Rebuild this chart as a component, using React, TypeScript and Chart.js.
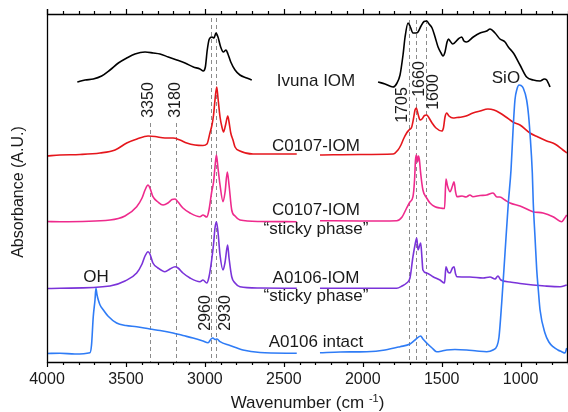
import React, { useEffect, useRef } from 'react';
import { Chart, registerables } from 'chart.js';
Chart.register(...registerables);

const FONT = '"Liberation Sans", Arial, Helvetica, sans-serif';
const TEXT = '#1a1a1a';

// ---- axes ----
const X_MIN = 700;
const X_MAX = 4000;
const Y_MIN = 0;
const Y_MAX = 3.48;
const xTickLabels = [4000, 3500, 3000, 2500, 2000, 1500, 1000];
const xMinorStep = 100;

// ---- Ivuna IOM (black) ----
const ivunaWn1 = [3808, 3759, 3707, 3654, 3601, 3548, 3495, 3443, 3379, 3327, 3284, 3232, 3178, 3126, 3073, 3031, 3010, 2997, 2985, 2972, 2955, 2942, 2930, 2917, 2900, 2883, 2866, 2854, 2836, 2809, 2778, 2735, 2703];
const ivunaAbs1 = [2.80, 2.82, 2.83, 2.86, 2.92, 2.99, 3.04, 3.08, 3.10, 3.09, 3.08, 3.05, 3.02, 2.99, 2.95, 2.93, 2.91, 2.95, 3.12, 3.23, 3.25, 3.24, 3.29, 3.25, 3.15, 3.10, 3.12, 3.08, 3.00, 2.92, 2.87, 2.84, 2.82];
const ivunaWn2 = [1903, 1859, 1808, 1783, 1764, 1745, 1732, 1713, 1701, 1682, 1663, 1650, 1631, 1612, 1595, 1580, 1561, 1542, 1523, 1504, 1492, 1479, 1466, 1457, 1447, 1430, 1395, 1373, 1359, 1342, 1300, 1257, 1215, 1194, 1162, 1131, 1099, 1078, 1046, 1004, 962, 920, 877, 850, 835, 825, 814];
const ivunaAbs2 = [2.80, 2.78, 2.75, 2.79, 2.87, 3.07, 3.25, 3.39, 3.36, 3.29, 3.29, 3.30, 3.36, 3.405, 3.41, 3.38, 3.34, 3.25, 3.15, 3.09, 3.06, 3.10, 3.20, 3.23, 3.21, 3.18, 3.23, 3.25, 3.21, 3.20, 3.25, 3.29, 3.31, 3.33, 3.29, 3.23, 3.20, 3.15, 3.09, 2.97, 2.85, 2.82, 2.81, 2.83, 2.82, 2.79, 2.75];

// ---- C0107-IOM (red) ----
const redWn1 = [4000, 3918, 3791, 3664, 3569, 3495, 3430, 3360, 3316, 3253, 3202, 3158, 3115, 3063, 3012, 2987, 2968, 2955, 2945, 2936, 2925, 2917, 2904, 2892, 2882, 2869, 2855, 2847, 2836, 2822, 2809, 2778, 2695, 2588, 2418];
const redAbs1 = [2.06, 2.07, 2.075, 2.09, 2.12, 2.19, 2.23, 2.26, 2.255, 2.24, 2.24, 2.22, 2.19, 2.17, 2.165, 2.18, 2.29, 2.37, 2.47, 2.62, 2.75, 2.64, 2.45, 2.35, 2.30, 2.37, 2.46, 2.40, 2.29, 2.22, 2.15, 2.11, 2.08, 2.08, 2.08];
const redWn2 = [2271, 2017, 1808, 1777, 1758, 1739, 1722, 1707, 1690, 1678, 1669, 1661, 1650, 1637, 1625, 1609, 1595, 1580, 1561, 1536, 1500, 1489, 1479, 1468, 1454, 1428, 1403, 1373, 1346, 1302, 1257, 1207, 1169, 1131, 1093, 1049, 1004, 941, 890, 835, 783, 732, 708];
const redAbs2 = [2.07, 2.075, 2.08, 2.12, 2.17, 2.24, 2.29, 2.32, 2.35, 2.44, 2.52, 2.54, 2.48, 2.42, 2.43, 2.465, 2.47, 2.44, 2.39, 2.34, 2.31, 2.34, 2.45, 2.49, 2.46, 2.44, 2.445, 2.45, 2.46, 2.49, 2.51, 2.53, 2.52, 2.49, 2.45, 2.40, 2.37, 2.29, 2.25, 2.21, 2.18, 2.12, 2.09];

// ---- C0107-IOM "sticky phase" (pink) ----
const pinkWn1 = [4000, 3918, 3601, 3506, 3432, 3398, 3379, 3360, 3348, 3329, 3297, 3265, 3234, 3208, 3189, 3170, 3139, 3094, 3031, 3012, 2988, 2974, 2957, 2945, 2936, 2927, 2917, 2904, 2885, 2872, 2858, 2847, 2830, 2809, 2778, 2651, 2418];
const pinkAbs1 = [1.405, 1.403, 1.42, 1.46, 1.553, 1.64, 1.72, 1.77, 1.74, 1.653, 1.60, 1.57, 1.59, 1.625, 1.63, 1.60, 1.54, 1.49, 1.453, 1.47, 1.45, 1.52, 1.70, 1.80, 1.95, 2.07, 1.94, 1.77, 1.603, 1.70, 1.90, 1.77, 1.52, 1.46, 1.42, 1.405, 1.403];
const pinkWn2 = [2271, 2017, 1785, 1751, 1722, 1701, 1682, 1672, 1666, 1660, 1653, 1647, 1641, 1634, 1619, 1595, 1574, 1542, 1511, 1482, 1473, 1463, 1447, 1432, 1422, 1412, 1403, 1371, 1346, 1321, 1302, 1257, 1215, 1175, 1150, 1131, 1099, 1067, 1004, 922, 858, 795, 740, 725, 708];
const pinkAbs2 = [1.413, 1.41, 1.413, 1.45, 1.54, 1.60, 1.653, 1.82, 2.02, 2.07, 2.00, 2.06, 2.02, 1.90, 1.72, 1.64, 1.59, 1.553, 1.54, 1.535, 1.83, 1.76, 1.703, 1.76, 1.803, 1.70, 1.653, 1.66, 1.65, 1.67, 1.653, 1.665, 1.67, 1.69, 1.65, 1.65, 1.62, 1.59, 1.56, 1.503, 1.49, 1.453, 1.403, 1.43, 1.47];

// ---- A0106-IOM "sticky phase" (purple) ----
const purpleWn1 = [4000, 3918, 3601, 3506, 3432, 3398, 3379, 3360, 3348, 3329, 3297, 3253, 3221, 3189, 3170, 3139, 3094, 3031, 3012, 2988, 2974, 2957, 2945, 2936, 2927, 2917, 2904, 2885, 2872, 2856, 2847, 2830, 2809, 2778, 2651, 2418];
const purpleAbs1 = [0.735, 0.737, 0.76, 0.81, 0.89, 0.98, 1.06, 1.103, 1.08, 0.99, 0.94, 0.903, 0.93, 0.953, 0.94, 0.89, 0.84, 0.803, 0.82, 0.79, 0.85, 1.02, 1.18, 1.34, 1.403, 1.30, 1.07, 0.92, 1.00, 1.17, 1.04, 0.853, 0.79, 0.753, 0.74, 0.737];
const purpleWn2 = [2271, 2017, 1785, 1751, 1722, 1701, 1682, 1669, 1658, 1650, 1641, 1633, 1625, 1619, 1595, 1555, 1511, 1482, 1473, 1460, 1447, 1432, 1422, 1412, 1403, 1321, 1238, 1194, 1162, 1144, 1125, 1067, 1004, 922, 846, 750, 708];
const purpleAbs2 = [0.737, 0.737, 0.737, 0.76, 0.79, 0.84, 1.053, 1.17, 1.24, 1.12, 1.16, 1.19, 1.04, 0.92, 0.89, 0.853, 0.82, 0.79, 0.953, 0.90, 0.89, 0.94, 0.953, 0.88, 0.853, 0.85, 0.84, 0.85, 0.83, 0.86, 0.82, 0.80, 0.785, 0.77, 0.76, 0.753, 0.77];

// ---- A0106 intact (blue) ----
const blueWn1 = [4000, 3918, 3823, 3728, 3718, 3707, 3696, 3690, 3683, 3675, 3664, 3643, 3614, 3559, 3500, 3432, 3348, 3284, 3202, 3139, 3075, 3012, 2980, 2961, 2949, 2936, 2923, 2904, 2841, 2759, 2651, 2418];
const blueAbs1 = [0.085, 0.087, 0.08, 0.093, 0.17, 0.453, 0.62, 0.737, 0.67, 0.62, 0.57, 0.52, 0.46, 0.39, 0.365, 0.353, 0.33, 0.315, 0.29, 0.265, 0.24, 0.21, 0.193, 0.23, 0.24, 0.225, 0.23, 0.203, 0.165, 0.12, 0.095, 0.087];
const blueWn2 = [2271, 2144, 1975, 1859, 1764, 1701, 1669, 1633, 1619, 1595, 1561, 1532, 1498, 1468, 1416, 1342, 1277, 1215, 1175, 1150, 1137, 1120, 1099, 1078, 1061, 1048, 1036, 1023, 1010, 998, 983, 962, 950, 941, 926, 920, 909, 898, 888, 877, 846, 821, 795, 764, 740, 719, 708];
const blueAbs2 = [0.093, 0.10, 0.103, 0.12, 0.153, 0.18, 0.22, 0.26, 0.23, 0.19, 0.14, 0.103, 0.11, 0.12, 0.125, 0.12, 0.11, 0.103, 0.12, 0.16, 0.25, 0.59, 1.09, 1.59, 1.92, 2.32, 2.62, 2.73, 2.77, 2.765, 2.737, 2.62, 2.47, 2.29, 1.89, 1.59, 1.25, 0.92, 0.72, 0.52, 0.29, 0.20, 0.153, 0.12, 0.103, 0.09, 0.14];

// ---- marker lines (wavenumbers) ----
const markerWn = [3350, 3180, 2960, 2930, 1705, 1660, 1600];
const markerTop = [2.39, 2.39, 3.44, 3.44, 3.42, 3.42, 3.42];

// ---- text annotations ----
const seriesLabels = [
  { text: 'Ivuna IOM', wn: 2296, y: 2.815 },
  { text: 'C0107-IOM', wn: 2296, y: 2.17 },
  { text: 'C0107-IOM', wn: 2296, y: 1.53 },
  { text: '\u201csticky phase\u201d', wn: 2296, y: 1.34 },
  { text: 'A0106-IOM', wn: 2296, y: 0.845 },
  { text: '\u201csticky phase\u201d', wn: 2296, y: 0.665 },
  { text: 'A0106 intact', wn: 2296, y: 0.21 },
  { text: 'OH', wn: 3690, y: 0.86 },
  { text: 'SiO', wn: 1093, y: 2.85 },
];
const peakLabels = [
  { text: '3350', wn: 3360, y: 2.62, bg: false },
  { text: '3180', wn: 3189, y: 2.62, bg: false },
  { text: '2960', wn: 2999, y: 0.49, bg: false },
  { text: '2930', wn: 2873, y: 0.49, bg: false },
  { text: '1705', wn: 1752, y: 2.57, bg: false },
  { text: '1660', wn: 1644, y: 2.83, bg: true },
  { text: '1600', wn: 1555, y: 2.70, bg: false },
];

const pts = (wn: number[], ab: number[]) => wn.map((w, i) => ({ x: w, y: ab[i] }));

const seriesDefs = [
  { color: '#2f7cf6', parts: [[blueWn1, blueAbs1], [blueWn2, blueAbs2]] },
  { color: '#000000', parts: [[ivunaWn1, ivunaAbs1], [ivunaWn2, ivunaAbs2]] },
  { color: '#e5161c', parts: [[redWn1, redAbs1], [redWn2, redAbs2]] },
  { color: '#ee2a8c', parts: [[pinkWn1, pinkAbs1], [pinkWn2, pinkAbs2]] },
  { color: '#7a33d9', parts: [[purpleWn1, purpleAbs1], [purpleWn2, purpleAbs2]] },
];

const overlay = {
  id: 'overlay',
  beforeDatasetsDraw(chart: any) {
    const { ctx, chartArea, scales } = chart;
    const x = scales.x, y = scales.y;
    ctx.save();
    ctx.strokeStyle = '#8c8c8c';
    ctx.lineWidth = 1;
    ctx.setLineDash([4, 3]);
    markerWn.forEach((wn, i) => {
      const px = Math.round(x.getPixelForValue(wn)) + 0.5;
      ctx.beginPath();
      ctx.moveTo(px, y.getPixelForValue(markerTop[i]));
      ctx.lineTo(px, chartArea.bottom);
      ctx.stroke();
    });
    ctx.setLineDash([]);
    ctx.font = `16px ${FONT}`;
    ctx.textAlign = 'center';
    ctx.textBaseline = 'middle';
    peakLabels.forEach((l) => {
      const px = x.getPixelForValue(l.wn);
      const py = y.getPixelForValue(l.y);
      ctx.save();
      ctx.translate(px, py);
      ctx.rotate(-Math.PI / 2);
      if (l.bg) {
        const w = ctx.measureText(l.text).width;
        ctx.fillStyle = '#ffffff';
        ctx.fillRect(-w / 2 - 1, -7, w + 2, 14);
      }
      ctx.fillStyle = TEXT;
      ctx.fillText(l.text, 0, 1);
      ctx.restore();
    });
    ctx.restore();
  },
  afterDraw(chart: any) {
    const { ctx, chartArea, scales } = chart;
    const x = scales.x, y = scales.y;
    const L = chartArea.left, R = chartArea.right, T = chartArea.top, B = chartArea.bottom;
    ctx.save();
    // frame
    ctx.strokeStyle = '#000';
    ctx.lineWidth = 1.3;
    ctx.beginPath();
    ctx.moveTo(L + 0.5, T - 5);
    ctx.lineTo(L + 0.5, B + 0.5);
    ctx.lineTo(R, B + 0.5);
    ctx.moveTo(L, T + 0.5);
    ctx.lineTo(R, T + 0.5);
    ctx.moveTo(R - 0.5, T);
    ctx.lineTo(R - 0.5, B);
    ctx.stroke();
    // ticks
    ctx.lineWidth = 1.2;
    ctx.beginPath();
    for (let v = X_MIN; v <= X_MAX; v += xMinorStep) {
      const px = Math.round(x.getPixelForValue(v)) + 0.5;
      const major = v % 500 === 0;
      const len = major ? 5 : 3;
      ctx.moveTo(px, B);
      ctx.lineTo(px, B + len);
      ctx.moveTo(px, T + 1);
      ctx.lineTo(px, T - len);
    }
    ctx.stroke();
    // tick labels
    ctx.fillStyle = TEXT;
    ctx.font = `16px ${FONT}`;
    ctx.textAlign = 'center';
    ctx.textBaseline = 'middle';
    xTickLabels.forEach((v) => {
      ctx.fillText(String(v), x.getPixelForValue(v), B + 18);
    });
    // x title with superscript
    const base = `17px ${FONT}`;
    const sup = `11px ${FONT}`;
    const p1 = 'Wavenumber (cm ';
    const p2 = '-1';
    const p3 = ')';
    ctx.font = base;
    const w1 = ctx.measureText(p1).width;
    const w3 = ctx.measureText(p3).width;
    ctx.font = sup;
    const w2 = ctx.measureText(p2).width;
    const total = w1 + w2 + w3;
    const sx = (L + R) / 2 - total / 2;
    const by = 407.5;
    ctx.textAlign = 'left';
    ctx.textBaseline = 'alphabetic';
    ctx.font = base;
    ctx.fillText(p1, sx, by);
    ctx.font = sup;
    ctx.fillText(p2, sx + w1, by - 6);
    ctx.font = base;
    ctx.fillText(p3, sx + w1 + w2, by);
    // y title
    ctx.save();
    ctx.translate(19, (T + B) / 2 + 4);
    ctx.rotate(-Math.PI / 2);
    ctx.font = `16px ${FONT}`;
    ctx.textAlign = 'center';
    ctx.textBaseline = 'middle';
    ctx.fillText('Absorbance (A.U.)', 0, 0);
    ctx.restore();
    // series labels
    ctx.font = `17px ${FONT}`;
    ctx.textAlign = 'center';
    ctx.textBaseline = 'middle';
    seriesLabels.forEach((l) => {
      ctx.fillText(l.text, x.getPixelForValue(l.wn), y.getPixelForValue(l.y) + 1);
    });
    ctx.restore();
  },
};

export default function App() {
  const ref = useRef<HTMLCanvasElement | null>(null);
  useEffect(() => {
    document.body.style.margin = '0';
    const canvas = ref.current;
    if (!canvas) return;
    const datasets: any[] = [];
    seriesDefs.forEach((s) => {
      s.parts.forEach((p: any) => {
        datasets.push({
          data: pts(p[0], p[1]),
          borderColor: s.color,
          backgroundColor: s.color,
          borderWidth: 1.6,
          pointRadius: 0,
          fill: false,
          cubicInterpolationMode: 'monotone',
        });
      });
    });
    const chart = new Chart(canvas, {
      type: 'line',
      data: { datasets },
      options: {
        responsive: false,
        animation: false,
        devicePixelRatio: 1,
        events: [],
        layout: { padding: { top: 14, right: 0, left: 0, bottom: 0 } },
        plugins: { legend: { display: false }, tooltip: { enabled: false }, title: { display: false } },
        scales: {
          x: {
            type: 'linear',
            reverse: true,
            min: X_MIN,
            max: X_MAX,
            position: 'bottom',
            grid: { display: false, drawTicks: false },
            border: { display: false },
            ticks: { display: false },
            afterFit: (s: any) => { s.height = 50; },
          },
          y: {
            type: 'linear',
            min: Y_MIN,
            max: Y_MAX,
            grid: { display: false, drawTicks: false },
            border: { display: false },
            ticks: { display: false },
            afterFit: (s: any) => { s.width = 47; },
          },
        },
      } as any,
      plugins: [overlay],
    });
    return () => chart.destroy();
  }, []);
  return (
    <div style={{ width: 568, height: 412 }}>
      <canvas ref={ref} width={568} height={412} style={{ display: 'block' }} />
    </div>
  );
}
